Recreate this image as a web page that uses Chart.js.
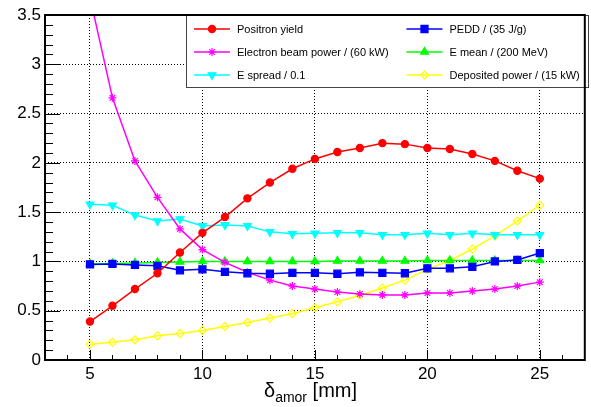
<!DOCTYPE html>
<html>
<head>
<meta charset="utf-8">
<script src="https://cdn.jsdelivr.net/npm/chart.js@4.4.1/dist/chart.umd.min.js"></script>
<style>
html, body { margin: 0; padding: 0; background: #fff; }
</style>
</head>
<body>
<canvas id="myChart" width="591" height="407"></canvas>
<script>
// delta_amor [mm]
var amor = [5, 6, 7, 8, 9, 10, 11, 12, 13, 14, 15, 16, 17, 18, 19, 20, 21, 22, 23, 24, 25];

var positronYield = [0.39, 0.55, 0.72, 0.88, 1.09, 1.29, 1.45, 1.64, 1.80, 1.94, 2.04, 2.11, 2.15, 2.20, 2.19, 2.15, 2.14, 2.09, 2.02, 1.92, 1.84];
var pedd = [0.97, 0.975, 0.965, 0.955, 0.91, 0.92, 0.895, 0.88, 0.875, 0.885, 0.885, 0.875, 0.89, 0.885, 0.88, 0.93, 0.93, 0.945, 1.0, 1.015, 1.085];
var beamPower = [3.68, 2.66, 2.02, 1.65, 1.33, 1.12, 0.99, 0.89, 0.81, 0.75, 0.72, 0.69, 0.67, 0.66, 0.66, 0.68, 0.68, 0.70, 0.72, 0.75, 0.79];
var eMean = [0.975, 0.98, 0.985, 0.99, 0.995, 1.0, 1.0, 1.0, 1.0, 1.0, 1.0, 1.005, 1.005, 1.005, 1.005, 1.01, 1.01, 1.01, 1.01, 1.01, 1.01];
var eSpread = [1.58, 1.57, 1.47, 1.41, 1.43, 1.36, 1.37, 1.36, 1.30, 1.28, 1.285, 1.29, 1.29, 1.27, 1.27, 1.285, 1.27, 1.285, 1.27, 1.27, 1.27];
var depPower = [0.16, 0.18, 0.205, 0.245, 0.27, 0.30, 0.34, 0.38, 0.425, 0.47, 0.53, 0.59, 0.655, 0.73, 0.81, 0.92, 1.01, 1.125, 1.26, 1.41, 1.57];

var xTicks = [5, 10, 15, 20, 25];
var yTicks = [0, 0.5, 1, 1.5, 2, 2.5, 3, 3.5];

var FONT = '"Liberation Sans", Arial, Helvetica, sans-serif';

function toPoints (ys) {
    return amor.map(function (x, i) { return {x: x, y: ys[i]}; });
}

function series (label, ys, color, style, radius, fill, rotation) {
    return {
        label: label,
        data: toPoints(ys),
        borderColor: color,
        backgroundColor: color,
        borderWidth: 1.5,
        pointStyle: style,
        pointRadius: radius,
        pointRotation: rotation || 0,
        pointBackgroundColor: fill,
        pointBorderColor: color,
        pointBorderWidth: 1.2,
        tension: 0,
        fill: false,
        clip: 0
    };
}

var datasets = [
    series('Positron yield', positronYield, '#ff0000', 'circle', 3.6, '#ff0000'),
    series('PEDD / (35 J/g)', pedd, '#0000ff', 'rect', 5, '#0000ff'),
    series('Electron beam power / (60 kW)', beamPower, '#ff00ff', 'star', 4, '#ff00ff'),
    series('E mean / (200 MeV)', eMean, '#00ff00', 'triangle', 4.5, '#00ff00'),
    series('E spread / 0.1', eSpread, '#00ffff', 'triangle', 4.5, '#00ffff', 180),
    series('Deposited power / (15 kW)', depPower, '#ffff00', 'rectRot', 4, 'rgba(255,255,255,0)')
];

// two-column legend box like the ROOT one
var legendBox = {
    id: 'legendBox',
    afterDraw: function (chart) {
        var ctx = chart.ctx;
        var box = {x: 186, y: 15, w: 402, h: 72};
        var colX = [194, 406.5];
        var rowY = [29, 52, 75];
        ctx.save();
        ctx.fillStyle = '#fff';
        ctx.fillRect(box.x, box.y, box.w, box.h);
        ctx.strokeStyle = '#444';
        ctx.lineWidth = 1;
        ctx.strokeRect(box.x + 0.5, box.y + 0.5, box.w, box.h);
        chart.data.datasets.forEach(function (ds, i) {
            var cx = colX[i % 2], cy = rowY[Math.floor(i / 2)];
            ctx.strokeStyle = ds.borderColor;
            ctx.lineWidth = 1.5;
            ctx.beginPath();
            ctx.moveTo(cx, cy);
            ctx.lineTo(cx + 36, cy);
            ctx.stroke();
            ctx.fillStyle = ds.pointBackgroundColor;
            ctx.strokeStyle = ds.pointBorderColor;
            ctx.lineWidth = ds.pointBorderWidth;
            Chart.helpers.drawPoint(ctx, {
                pointStyle: ds.pointStyle,
                radius: ds.pointRadius,
                rotation: ds.pointRotation,
                borderWidth: ds.pointBorderWidth
            }, cx + 18, cy);
            ctx.fillStyle = '#000';
            ctx.font = '11px ' + FONT;
            ctx.textBaseline = 'middle';
            ctx.textAlign = 'left';
            ctx.fillText(ds.label, cx + 43, cy + 0.5);
        });
        ctx.restore();
    }
};

// frame, inward ticks and the axis title
var frameAndTicks = {
    id: 'frameAndTicks',
    afterDraw: function (chart) {
        var ctx = chart.ctx, area = chart.chartArea;
        var xs = chart.scales.x, ys = chart.scales.y;
        ctx.save();
        ctx.strokeStyle = '#000';
        ctx.lineWidth = 1;
        ctx.beginPath();
        for (var v = 4; v <= 26; v++) {
            var px = Math.round(xs.getPixelForValue(v)) + 0.5;
            var len = (v % 5 === 0) ? 10 : 5;
            ctx.moveTo(px, area.bottom);
            ctx.lineTo(px, area.bottom - len);
        }
        for (var i = 1; i < 35; i++) {
            var py = Math.round(ys.getPixelForValue(i / 10)) + 0.5;
            var len2 = (i % 5 === 0) ? 15 : 8;
            ctx.moveTo(area.left, py);
            ctx.lineTo(area.left + len2, py);
        }
        ctx.stroke();
        ctx.lineWidth = 2;
        ctx.strokeRect(area.left, area.top, area.right - area.left, area.bottom - area.top);

        // x title: delta with subscript "amor"
        ctx.fillStyle = '#000';
        ctx.textBaseline = 'alphabetic';
        ctx.textAlign = 'left';
        var base = 397;
        ctx.font = '20px ' + FONT;
        var w1 = ctx.measureText('\u03b4').width;
        ctx.font = '14px ' + FONT;
        var w2 = ctx.measureText('amor').width;
        var x0 = 264;
        ctx.font = '20px ' + FONT;
        ctx.fillText('\u03b4', x0, base);
        ctx.font = '14px ' + FONT;
        ctx.fillText('amor', x0 + w1, base + 5);
        ctx.font = '20px ' + FONT;
        ctx.fillText(' [mm]', x0 + w1 + w2, base);
        ctx.restore();
    }
};

var config = {
    type: 'line',
    data: { datasets: datasets },
    options: {
        responsive: false,
        animation: false,
        layout: { padding: { top: 15, right: 2, left: 0, bottom: 0 } },
        plugins: {
            legend: { display: false },
            tooltip: { enabled: false }
        },
        scales: {
            x: {
                type: 'linear',
                min: 3,
                max: 27,
                afterBuildTicks: function (axis) {
                    axis.ticks = xTicks.map(function (v) { return {value: v}; });
                },
                afterFit: function (axis) { axis.height = 47; },
                grid: { color: '#000', lineWidth: 1, drawTicks: false },
                border: { display: false, dash: [1, 2] },
                ticks: {
                    color: '#000',
                    padding: 4,
                    maxRotation: 0,
                    font: { family: FONT, size: 17 },
                    callback: function (value) { return String(value); }
                }
            },
            y: {
                type: 'linear',
                min: 0,
                max: 3.5,
                afterBuildTicks: function (axis) {
                    axis.ticks = yTicks.map(function (v) { return {value: v}; });
                },
                afterFit: function (axis) { axis.width = 45; },
                grid: { color: '#000', lineWidth: 1, drawTicks: false },
                border: { display: false, dash: [1, 2] },
                ticks: {
                    color: '#000',
                    padding: 4,
                    font: { family: FONT, size: 17 },
                    callback: function (value) { return String(value); }
                }
            }
        }
    },
    plugins: [legendBox, frameAndTicks]
};

window.myChart = new Chart(document.getElementById('myChart').getContext('2d'), config);
</script>
</body>
</html>
